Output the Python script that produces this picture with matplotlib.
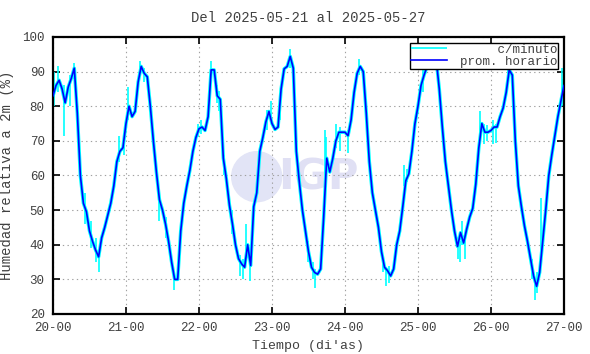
import numpy as np
import matplotlib
matplotlib.use('Agg')
import matplotlib.pyplot as plt
from matplotlib.patches import Ellipse

plt.rcParams['font.family'] = 'Liberation Mono'

# hourly means (prom. horario), one list per day, hours 00..23
hum_20 = [83, 86, 87.5, 85, 81, 85.5, 88, 91, 78, 60, 52, 49.5,
          44, 41, 38.5, 36.5, 42, 45, 48.5, 52, 57, 64, 67, 68]
hum_21 = [75, 80, 77, 78.5, 87, 91.5, 89.5, 88.5, 80, 70, 61, 53,
          50, 46, 41, 35, 30, 30, 44, 52, 57, 61.5, 67, 71]
hum_22 = [73.5, 74, 73, 77, 90.5, 90.5, 83, 82, 65, 59, 51.5, 46,
          40, 36, 34.5, 33.5, 40, 34, 51, 55, 67, 71, 75.5, 78.5]
hum_23 = [75, 73.3, 74, 85, 90.8, 91.5, 94.4, 91, 67, 58, 50, 44,
          38, 33.5, 32, 31.5, 33, 48, 65, 61, 65, 70, 72.5, 72.5]
hum_24 = [72.5, 71.5, 76, 84, 89.5, 91.5, 90, 78, 64, 55, 50, 45,
          38, 33.5, 32.5, 31, 33, 40, 44, 51, 58.5, 60.5, 67, 75]
hum_25 = [80, 86, 89, 91.5, 93, 93.4, 93.4, 85, 74, 64, 57, 50,
          44, 39.5, 43.5, 40.5, 44.5, 48, 50.5, 57.5, 68, 75, 72.5, 72.5]
hum_26 = [73, 74, 74, 77, 79.5, 84, 90.5, 89, 70, 57, 51, 45.5,
          41, 36, 31, 28, 32, 41, 50, 60, 66, 71.5, 77, 81.5]
hum_27 = [86]

# per-minute extremes: (day, hour, low, high)
spk_day = [20, 20, 20, 20, 20, 20, 20, 20, 20, 20, 20,
           21, 21, 21, 21, 21, 21, 21,
           22, 22, 22, 22, 22, 22, 22, 22, 22, 22, 22, 22,
           23, 23, 23, 23, 23, 23, 23, 23, 23,
           24, 24, 24, 24, 24, 24, 24,
           25, 25, 25, 25, 25, 25, 25, 25, 25,
           26, 26, 26, 26, 26, 26, 26, 26, 26, 26]
spk_hour = [0.3, 1.7, 3.5, 5.5, 7, 10.5, 12.5, 14, 15, 21.7, 23.5,
            0.6, 4.6, 6, 11, 13, 15.8, 23.7,
            0.5, 4, 5.8, 6.5, 8.2, 11, 13.5, 14.5, 15.5, 16.7, 22.5, 23.7,
            2.5, 5.8, 12, 13.5, 14.3, 17.3, 17.8, 21.2, 22.5,
            1, 4.5, 12.5, 13.5, 14.5, 19.5, 20.3,
            1.5, 4.5, 13, 13.8, 14.5, 15.5, 20.5, 21.8, 22.7,
            0.8, 1.8, 5.5, 6, 13.5, 14.5, 15.2, 16.5, 23.2, 23.8]
spk_lo = [80, 84, 71.5, 80, 88, 46, 39, 35, 32, 64, 66,
          76, 89, 87, 47, 42, 27, 71,
          72, 89, 81, 78.5, 60, 43, 31, 30, 35, 29.5, 73, 77,
          76, 91, 35, 30, 27.5, 51, 60, 68, 67,
          66.5, 89, 32, 28, 29, 57, 58,
          84, 91, 36, 35, 40, 36, 72, 69, 70,
          69, 69.5, 88, 89, 30, 24, 26, 38, 80, 82]
spk_hi = [90, 91.5, 86, 89, 92.5, 55, 47, 42, 38, 71.5, 70,
          85.5, 93, 91, 55, 48, 32, 75,
          76, 93, 86, 84.5, 66, 50, 37, 36, 46, 36, 79, 81.5,
          82, 96.5, 41, 35, 33, 73, 71, 75, 74,
          73, 93.5, 37, 33, 34, 63, 62,
          91, 95, 42, 41, 47, 42, 78.5, 75, 74.5,
          76, 75, 93, 92.5, 36, 30, 32, 53.5, 91, 88]

hourly = np.array(hum_20 + hum_21 + hum_22 + hum_23 + hum_24 + hum_25 + hum_26 + hum_27)
t_hour = 20 + np.arange(len(hourly)) / 24.0
t_spk = np.array(spk_day) + np.array(spk_hour) / 24.0

xticks = np.arange(20, 28)
xlabels = ['%d-00' % d for d in xticks]
txt = '#404040'

fig = plt.figure(figsize=(5.9, 3.54), dpi=100)
ax = fig.add_axes([0.0898, 0.113, 0.8661, 0.7825])
ax.patch.set_alpha(0)

# IGP watermark behind the axes
fig.add_artist(Ellipse((256.7 / 590, 1 - 176.7 / 354), 50 / 590, 50 / 354,
                       transform=fig.transFigure, color='#e2e4f6', zorder=-2))
fig.text(318 / 590, 1 - 177 / 354, 'IGP', family='DejaVu Sans', weight='bold',
         fontsize=30, color='#e0e0f4', ha='center', va='center', zorder=-2)

ax.plot(t_hour, hourly, color='#00ffff', lw=2.5, solid_joinstyle='round', zorder=2)
ax.vlines(t_spk, spk_lo, spk_hi, color='#00ffff', lw=1.2, zorder=2,
          label='     c/minuto')
ax.plot(t_hour, hourly, color='#0000ff', lw=1.2, zorder=3, label='prom. horario')

ax.set_xlim(20, 27)
ax.set_ylim(20, 100)
ax.set_xticks(xticks)
ax.set_xticklabels(xlabels)
ax.set_yticks(np.arange(20, 101, 10))
ax.tick_params(direction='in', length=5, width=1.2, top=True, right=True,
               labelsize=9, colors='black', labelcolor=txt, pad=6)
ax.grid(True, color='#a0a0a0', ls=(0, (1.2, 3)), lw=0.8)
for s in ax.spines.values():
    s.set_linewidth(1.6)

ax.set_title('Del 2025-05-21 al 2025-05-27', fontsize=10, color=txt, pad=11)
ax.set_xlabel("Tiempo (di'as)", fontsize=9.5, color=txt, labelpad=4)
ax.set_ylabel('Humedad relativa a 2m (%)', fontsize=10, color=txt, labelpad=6)

leg = ax.legend(loc='upper right', fontsize=9, frameon=True, fancybox=False,
                edgecolor='black', framealpha=1, borderpad=0.1, labelspacing=0.0,
                handlelength=2.9, handletextpad=1.0, borderaxespad=0.45)
leg.get_frame().set_linewidth(1.0)
for t in leg.get_texts():
    t.set_color(txt)

plt.savefig('out.png', dpi=100)
plt.close()
